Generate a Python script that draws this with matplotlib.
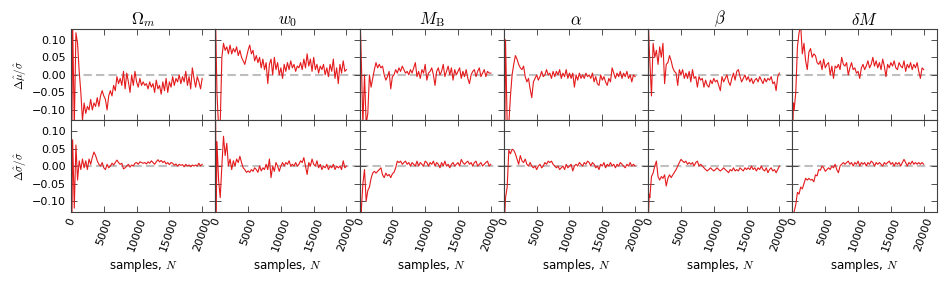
import numpy as np
import matplotlib
matplotlib.use("Agg")
import matplotlib.pyplot as plt

plt.rcParams["mathtext.fontset"] = "cm"
plt.rcParams["font.family"] = ["DejaVu Sans"]

# sample counts (first two points are the very early draws)
N = np.concatenate([[50, 150], np.arange(250, 20001, 250)])

params = [r"$\Omega_m$", r"$w_0$", r"$M_{\rm B}$", r"$\alpha$", r"$\beta$", r"$\delta M$"]
row_labels = [r"$\Delta\hat{\mu}/\hat{\sigma}$", r"$\Delta\hat{\sigma}/\hat{\sigma}$"]

# relative error of the mean
mu_om = [0.14, -0.14, 0.15, -0.15, 0.12, 0.09, 0.01, -0.05, -0.13, -0.08,
         -0.11, -0.09, -0.10, -0.07, -0.10, -0.08, -0.09, -0.065, -0.09, -0.06,
         -0.045, -0.06, -0.07, -0.10, -0.06, -0.045, -0.06, -0.03, -0.045, -0.005,
         -0.025, -0.01, -0.03, 0.01, -0.04, 0.005, -0.02, -0.05, 0.0, -0.03,
         0.01, -0.02, -0.035, -0.01, -0.03, -0.02, -0.03, -0.025, -0.04, -0.02,
         -0.035, -0.025, -0.05, -0.015, -0.04, -0.03, -0.055, -0.02, -0.045, -0.01,
         -0.05, -0.02, -0.035, -0.005, -0.03, -0.01, -0.02, 0.0, -0.025, -0.005,
         -0.02, 0.01, -0.03, -0.005, -0.04, 0.02, -0.01, -0.035, -0.005, -0.02,
         -0.04, -0.01]
mu_w0 = [0.15, 0.05, -0.05, -0.15, -0.14, 0.05, 0.09, 0.07, 0.08, 0.06,
         0.085, 0.06, 0.075, 0.065, 0.08, 0.055, 0.07, 0.05, 0.04, 0.03,
         0.05, 0.07, 0.085, 0.06, 0.07, 0.04, 0.055, 0.035, 0.05, 0.02,
         0.045, 0.015, 0.035, -0.025, 0.03, 0.045, 0.0, 0.05, 0.015, 0.035,
         0.0, 0.02, -0.01, 0.03, 0.01, 0.035, 0.015, 0.04, 0.02, 0.03,
         0.01, 0.025, 0.02, 0.035, 0.015, 0.045, 0.02, 0.06, 0.025, 0.045,
         0.01, 0.05, 0.015, 0.03, 0.005, 0.025, 0.015, 0.03, 0.0, 0.02,
         -0.005, 0.03, 0.01, 0.045, -0.01, 0.02, -0.025, 0.03, 0.005, 0.04,
         0.01, 0.015]
mu_mb = [0.15, 0.12, 0.05, -0.14, 0.0, -0.14, -0.11, 0.0, -0.035, -0.01,
         0.015, 0.035, 0.02, 0.03, 0.02, 0.025, 0.0, -0.015, -0.005, 0.01,
         -0.04, -0.005, 0.0, 0.015, 0.005, 0.02, 0.01, 0.025, 0.015, 0.005,
         0.01, 0.0, 0.015, 0.005, 0.02, 0.035, -0.005, 0.01, -0.01, 0.015,
         0.005, 0.03, -0.015, 0.005, 0.01, 0.02, 0.0, -0.03, 0.01, 0.02,
         0.0, 0.01, 0.03, -0.005, 0.01, 0.025, 0.0, 0.02, -0.015, 0.015,
         0.0, 0.01, 0.02, -0.01, 0.01, -0.005, 0.015, -0.01, -0.025, 0.0,
         0.01, 0.015, -0.005, 0.01, 0.02, -0.005, 0.005, 0.015, -0.005, 0.01,
         0.005, 0.005]
mu_alpha = [0.15, -0.15, 0.1, -0.14, -0.14, -0.06, 0.0, 0.03, 0.055, 0.045,
            0.03, 0.02, 0.015, 0.025, -0.005, -0.02, -0.01, -0.04, -0.065, -0.02,
            -0.01, 0.0, -0.015, -0.005, 0.01, -0.005, 0.0, 0.015, 0.0, 0.005,
            -0.01, 0.01, -0.005, 0.01, 0.0, 0.015, -0.01, 0.005, -0.005, 0.015,
            -0.01, 0.005, -0.01, 0.005, -0.035, 0.0, -0.015, 0.005, -0.01, 0.0,
            -0.01, 0.005, -0.005, 0.0, -0.01, 0.005, -0.02, -0.005, -0.025, -0.03,
            0.0, -0.015, -0.005, -0.02, -0.03, -0.01, -0.02, 0.02, 0.005, -0.01,
            0.005, -0.005, 0.01, -0.01, 0.005, -0.005, 0.01, -0.01, 0.0, -0.02,
            0.0, -0.005]
mu_beta = [0.14, 0.08, 0.04, -0.06, 0.09, 0.05, 0.07, 0.03, 0.08, 0.05,
           0.09, -0.025, 0.03, 0.035, 0.055, 0.04, 0.02, 0.01, 0.005, -0.03,
           0.015, 0.0, 0.015, -0.01, 0.005, -0.01, 0.01, -0.02, 0.015, -0.01,
           -0.005, -0.035, -0.005, -0.015, -0.01, -0.035, -0.015, -0.03, -0.035, -0.015,
           -0.025, -0.01, -0.02, -0.015, -0.03, -0.045, -0.005, -0.02, -0.01, 0.0,
           -0.02, -0.03, -0.01, 0.005, -0.015, 0.01, 0.015, -0.005, -0.02, -0.01,
           0.0, -0.015, -0.005, -0.02, -0.01, -0.025, -0.015, -0.01, -0.02, -0.005,
           -0.015, -0.025, -0.01, -0.02, -0.01, -0.015, -0.005, -0.025, -0.02, -0.045,
           -0.005, 0.005]
mu_dm = [-0.15, -0.08, -0.10, -0.05, 0.08, 0.12, 0.14, 0.06, 0.09, 0.04,
         0.015, 0.065, 0.075, 0.05, 0.06, 0.055, 0.035, 0.03, 0.04, 0.015,
         0.045, 0.02, 0.03, 0.035, 0.0, 0.025, -0.01, 0.025, 0.02, 0.03,
         0.015, 0.05, 0.03, 0.025, 0.035, 0.0, 0.02, 0.035, 0.015, 0.02,
         0.005, 0.01, -0.01, 0.02, 0.03, 0.015, 0.025, 0.04, 0.02, 0.03,
         0.05, 0.025, 0.04, 0.02, 0.035, 0.015, 0.045, 0.025, -0.005, 0.03,
         0.02, 0.035, 0.025, 0.04, 0.02, 0.015, 0.035, 0.025, 0.02, 0.04,
         0.01, 0.03, 0.02, 0.035, 0.015, 0.03, 0.02, 0.035, 0.01, -0.01,
         0.02, 0.015]

# relative error of the width
sig_om = [0.14, -0.14, 0.075, -0.12, 0.06, -0.04, 0.015, -0.01, 0.02, -0.005,
          0.015, -0.01, 0.02, 0.005, 0.025, 0.04, 0.03, 0.015, 0.005, 0.0,
          0.01, -0.005, -0.01, 0.005, -0.005, 0.0, 0.008, 0.003, 0.01, 0.017,
          0.01, 0.005, 0.008, -0.008, -0.005, 0.0, 0.005, -0.003, 0.003, 0.0,
          0.008, 0.01, 0.005, 0.012, 0.01, 0.008, 0.01, 0.006, 0.012, 0.008,
          0.015, 0.01, 0.005, 0.012, 0.018, 0.012, 0.016, 0.01, 0.014, 0.006,
          0.01, 0.004, 0.01, 0.008, 0.002, 0.006, 0.0, 0.005, 0.002, 0.004,
          -0.002, 0.005, 0.0, 0.003, -0.002, 0.003, 0.0, 0.003, 0.0, 0.008,
          0.0, 0.005]
sig_w0 = [0.14, -0.13, 0.07, -0.04, -0.09, 0.0, 0.085, 0.03, 0.065, 0.0,
          0.02, -0.01, 0.015, 0.0, 0.02, 0.01, 0.028, 0.01, -0.005, -0.01,
          -0.018, -0.014, -0.018, -0.01, -0.015, -0.005, -0.01, -0.018, 0.0, -0.014,
          -0.005, -0.01, 0.005, -0.01, 0.02, -0.033, 0.0, -0.015, 0.01, 0.0,
          -0.015, 0.0, 0.01, 0.0, 0.01, 0.005, 0.015, 0.0, 0.005, 0.0,
          0.01, 0.0, 0.005, 0.015, 0.01, 0.024, 0.0, -0.024, 0.01, 0.0,
          0.02, 0.005, 0.0, 0.015, -0.005, 0.005, -0.01, 0.0, -0.005, 0.005,
          -0.01, 0.0, -0.005, 0.005, -0.01, 0.0, -0.005, 0.0, -0.01, 0.015,
          -0.005, 0.0]
sig_mb = [-0.15, -0.11, -0.13, -0.05, -0.01, -0.10, -0.07, -0.06, -0.035, -0.02,
          -0.015, -0.02, -0.015, -0.01, -0.005, -0.025, -0.033, -0.02, -0.028, -0.024,
          -0.033, -0.022, -0.018, -0.005, 0.014, 0.01, 0.014, 0.005, 0.01, 0.014,
          0.005, 0.01, 0.0, 0.01, 0.005, 0.0, 0.014, 0.0, 0.01, 0.005,
          0.0, 0.014, 0.01, 0.0, 0.01, 0.005, 0.014, 0.0, 0.01, 0.005,
          -0.005, 0.01, 0.0, 0.014, 0.0, 0.005, -0.005, 0.005, 0.01, 0.0,
          0.005, 0.01, 0.0, 0.019, 0.01, 0.005, 0.01, 0.014, 0.005, 0.01,
          0.0, 0.01, 0.014, 0.0, 0.005, 0.01, 0.0, 0.005, 0.01, 0.014,
          0.0, 0.005]
sig_alpha = [-0.15, -0.13, -0.09, -0.06, 0.045, 0.035, 0.048, 0.045, 0.035, 0.02,
             0.005, 0.03, 0.015, 0.01, 0.02, 0.005, 0.0, 0.01, 0.0, -0.005,
             0.0, -0.01, 0.0, 0.005, -0.005, 0.0, 0.01, 0.005, 0.014, 0.01,
             0.014, 0.005, 0.0, -0.005, 0.0, -0.01, -0.005, 0.0, -0.01, 0.005,
             -0.005, 0.0, 0.005, -0.014, 0.0, 0.005, 0.0, 0.01, 0.005, 0.0,
             0.01, 0.005, 0.014, 0.01, 0.0, 0.01, 0.005, -0.005, 0.0, -0.01,
             0.005, 0.0, 0.01, -0.005, 0.005, 0.0, 0.01, 0.0, 0.005, -0.005,
             0.005, 0.0, 0.01, 0.005, 0.0, -0.005, 0.005, 0.0, 0.01, 0.0,
             0.005, 0.0]
sig_beta = [-0.14, -0.08, -0.09, -0.03, -0.02, 0.0, 0.014, -0.03, -0.04, -0.03,
            -0.035, -0.025, -0.057, -0.035, -0.025, -0.033, -0.025, -0.018, -0.01, 0.0,
            0.01, 0.019, 0.014, 0.01, 0.014, 0.005, 0.01, 0.005, 0.01, 0.0,
            0.01, 0.014, 0.0, 0.005, 0.0, -0.005, -0.01, -0.014, -0.01, -0.005,
            -0.01, -0.014, -0.01, -0.005, -0.01, -0.014, -0.01, -0.005, -0.01, -0.014,
            -0.019, -0.01, -0.014, -0.005, -0.014, -0.01, -0.014, -0.005, -0.01, -0.014,
            -0.005, -0.01, -0.005, -0.01, 0.0, -0.01, -0.005, -0.014, -0.005, -0.01,
            0.0, -0.01, -0.014, -0.005, -0.019, -0.01, -0.005, -0.014, -0.01, -0.019,
            -0.01, 0.0]
sig_dm = [-0.15, -0.14, -0.13, -0.11, -0.075, -0.08, -0.06, -0.065, -0.05, -0.035,
          -0.04, -0.035, -0.04, -0.038, -0.045, -0.025, -0.028, -0.01, -0.012, 0.0,
          -0.005, -0.015, -0.01, -0.005, -0.01, 0.0, -0.005, 0.005, -0.01, -0.019,
          0.0, 0.005, 0.01, 0.005, 0.01, 0.014, 0.005, 0.01, 0.0, 0.01,
          0.005, 0.014, 0.0, 0.01, 0.005, 0.01, 0.0, 0.01, 0.005, 0.014,
          0.01, 0.0, 0.01, 0.005, 0.01, 0.005, 0.0, 0.01, 0.005, 0.01,
          0.014, 0.005, 0.01, 0.0, 0.01, 0.005, 0.01, 0.0, 0.01, 0.019,
          0.01, 0.0, 0.01, 0.005, 0.014, 0.005, 0.01, 0.005, 0.01, 0.005,
          0.01, 0.005]

rows = [
    [mu_om, mu_w0, mu_mb, mu_alpha, mu_beta, mu_dm],
    [sig_om, sig_w0, sig_mb, sig_alpha, sig_beta, sig_dm],
]

fig, axes = plt.subplots(2, 6, figsize=(9.53, 2.86), dpi=100, sharex=True, sharey=True)
fig.subplots_adjust(left=0.0745, right=0.983, top=0.8976, bottom=0.26, wspace=0, hspace=0)

for r in range(2):
    for c in range(6):
        ax = axes[r, c]
        ax.axhline(0, color="0.75", lw=1.5, ls=(0, (4, 2)), zorder=1)
        ax.plot(N, rows[r][c], color="#e41a1c", lw=0.8, zorder=2)
        ax.set_xlim(0, 22000)
        ax.set_ylim(-0.13, 0.13)
        ax.set_xticks([0, 5000, 10000, 15000, 20000])
        ax.set_yticks([-0.10, -0.05, 0.00, 0.05, 0.10])
        ax.tick_params(direction="in", top=True, right=True, length=4,
                       width=0.6, labelsize=8, color="0.2")
        for sp in ax.spines.values():
            sp.set_linewidth(0.8)
            sp.set_color("0.25")
        if r == 0:
            ax.set_title(params[c], fontsize=12, pad=3)
        else:
            ax.tick_params(axis="x", labelbottom=True)
            for lab in ax.get_xticklabels():
                lab.set_rotation(70)
            ax.set_xlabel(r"samples, $N$", fontsize=8.5, labelpad=3)
        if c == 0:
            ax.set_ylabel(row_labels[r], fontsize=8, labelpad=2)

plt.savefig("out.png", dpi=100)
